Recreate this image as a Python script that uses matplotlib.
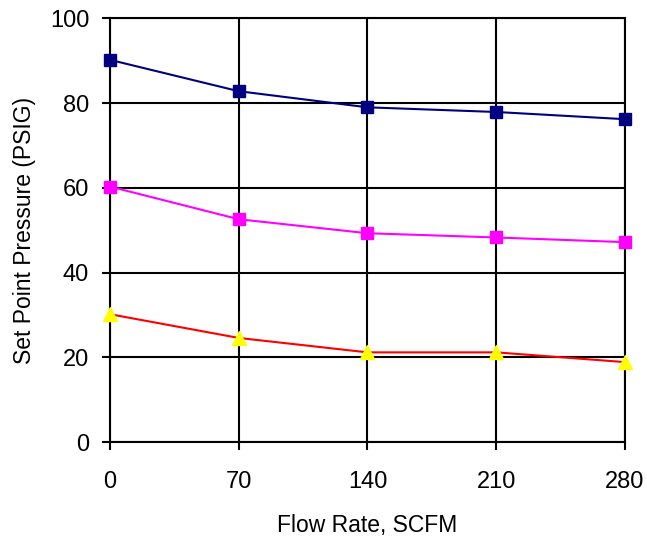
import matplotlib
matplotlib.use("Agg")
import matplotlib.pyplot as plt

plt.rcParams['font.family'] = ['Liberation Sans', 'DejaVu Sans']

flow_rate = [0, 70, 140, 210, 280]
high_set = [90.2, 82.8, 79.0, 77.9, 76.2]
mid_set = [60.3, 52.6, 49.3, 48.3, 47.2]
low_set = [30.2, 24.6, 21.2, 21.2, 18.9]

fig = plt.figure(figsize=(6.47, 5.38), dpi=100)
ax = fig.add_axes([0.170, 0.178, 0.796, 0.788])

ax.plot(flow_rate, high_set, color="#000080", marker="s", markersize=8,
        linewidth=1.5, clip_on=False, zorder=3)
ax.plot(flow_rate, mid_set, color="#ff00ff", marker="s", markersize=8,
        linewidth=1.5, clip_on=False, zorder=3)
ax.plot(flow_rate, low_set, color="#ff0000", marker="^", markersize=10,
        markerfacecolor="#ffff00", markeredgecolor="#ffff00",
        linewidth=1.5, clip_on=False, zorder=3)

ax.set_xlim(0, 280)
ax.set_ylim(0, 100)
ax.set_xticks(flow_rate)
ax.set_yticks(range(0, 101, 20))
ax.grid(True, color="black", linewidth=1.5)
ax.set_axisbelow(True)
for s in ax.spines.values():
    s.set_linewidth(1.5)
ax.tick_params(direction="out", length=6, width=1.5, labelsize=17)
ax.tick_params(axis="x", pad=15)
ax.tick_params(axis="y", pad=9)

ax.set_xlabel("Flow Rate, SCFM", fontsize=16.5, labelpad=15)
ax.set_ylabel("Set Point Pressure (PSIG)", fontsize=16.5, labelpad=10)

fig.savefig("out.png", dpi=100)
